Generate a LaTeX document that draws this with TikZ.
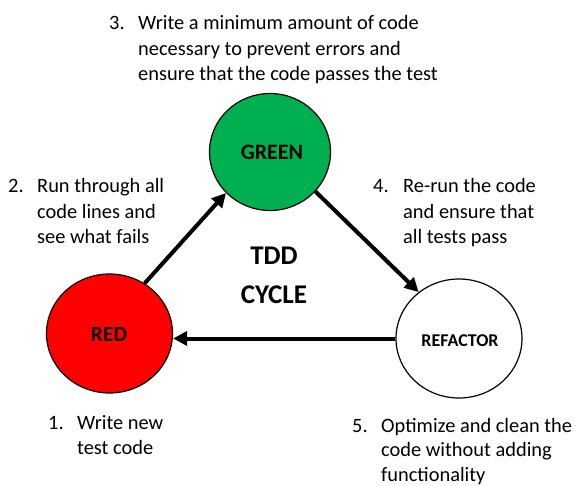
\documentclass[tikz,border=0pt]{standalone}
\usepackage{fontspec}
\setmainfont{Carlito}
\usetikzlibrary{arrows.meta,shapes.geometric}
\definecolor{tddgreen}{HTML}{00B050}
\definecolor{tddred}{HTML}{FF0000}
\tikzset{
  phase/.style={ellipse,draw=black,line width=1.2pt,inner sep=0pt,font=\fontsize{22}{26}\selectfont\bfseries},
  arr/.style={line width=4pt,-{Triangle[length=14pt,width=14pt]}},
  txt/.style={anchor=base west,inner sep=0pt,font=\fontsize{20.4}{25.5}\selectfont},
  title/.style={anchor=base,inner sep=0pt,font=\fontsize{27}{32}\selectfont\bfseries}
}
\begin{document}
\begin{tikzpicture}[x=1pt,y=-1pt]
\useasboundingbox (0,0) rectangle (578,486);
% phases
\node[phase,fill=tddgreen,minimum width=121pt,minimum height=117pt] (green) at (270,152) {};
\node[phase,fill=tddred,minimum width=126pt,minimum height=119pt] (red) at (109.5,333.5) {};
\node[phase,fill=white,minimum width=126pt,minimum height=119pt] (refactor) at (459,338.5) {};
\node[anchor=base,inner sep=0pt,font=\fontsize{22}{26}\selectfont\bfseries] (lgreen) at (272,160) {GREEN};
\node[anchor=base,inner sep=0pt,font=\fontsize{21.6}{26}\selectfont\bfseries] (lred) at (109,341) {RED};
\node[anchor=base,inner sep=0pt,font=\fontsize{18}{22}\selectfont\bfseries] (lref) at (460,346) {REFACTOR};
% arrows
\draw[arr] (red.55) -- (green.223);
\draw[arr] (green.319) -- (refactor.131);
\draw[arr] (refactor.west) -- (refactor.west -| red.east);
% centre title
\node[title] (tdd) at (274,265) {TDD};
\node[title] (cycle) at (274,303.5) {CYCLE};
% step texts
\node[txt] (n3) at (109,30) {3.};
\node[txt] (t3) at (138,30) {\vtop{\hbox{Write a minimum amount of code}\hbox{necessary to prevent errors and}\hbox{ensure that the code passes the test}}};
\node[txt] (n2) at (8,193) {2.};
\node[txt] (t2) at (37,193) {\vtop{\hbox{Run through all}\hbox{code lines and}\hbox{see what fails}}};
\node[txt] (n4) at (373,193) {4.};
\node[txt] (t4) at (403,193) {\vtop{\hbox{Re-run the code}\hbox{and ensure that}\hbox{all tests pass}}};
\node[txt] (n1) at (48,429) {1.};
\node[txt] (t1) at (77,429) {\vtop{\hbox{Write new}\hbox{test code}}};
\node[txt,font=\fontsize{20.4}{24.8}\selectfont] (n5) at (352,432) {5.};
\node[txt,font=\fontsize{20.4}{24.8}\selectfont] (t5) at (381,432) {\vtop{\hbox{Optimize and clean the}\hbox{code without adding}\hbox{functionality}}};
\end{tikzpicture}
\end{document}
